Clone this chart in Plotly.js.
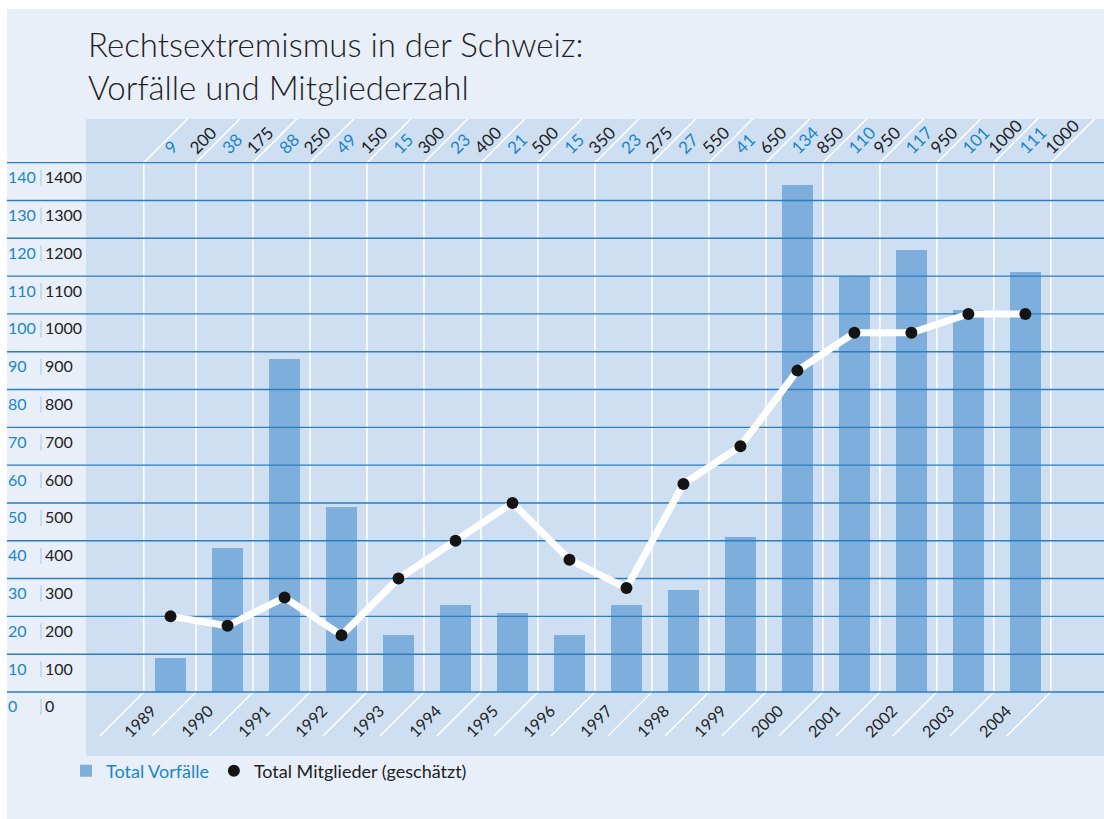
<!DOCTYPE html>
<html><head><meta charset="utf-8">
<script src="https://cdn.plot.ly/plotly-3.0.1.min.js"></script>
<style>html,body{margin:0;padding:0;background:#ffffff;}#chart{position:absolute;left:7px;top:9px;width:1097px;height:810px;}</style>
</head><body><div id="chart"></div>
<script>
// ---- data ----
const years = [1989,1990,1991,1992,1993,1994,1995,1996,1997,1998,1999,2000,2001,2002,2003,2004];
const incidents = [9,38,88,49,15,23,21,15,23,27,41,134,110,117,101,111];
const members = [200,175,250,150,300,400,500,350,275,550,650,850,950,950,1000,1000];
const incidentTicks = [0,10,20,30,40,50,60,70,80,90,100,110,120,130,140];
const memberTicks = [0,100,200,300,400,500,600,700,800,900,1000,1100,1200,1300,1400];
const titleText = 'Rechtsextremismus in der Schweiz:<br>Vorfälle und Mitgliederzahl';
const nameIncidents = 'Total Vorfälle';
const nameMembers = 'Total Mitglieder (geschätzt)';

// ---- style ----
const FONT = 'Lato, "Open Sans", sans-serif';
const BLUE_TXT = '#1a86c8', DARK = '#222222', GRID = '#2a7dc0';
const PAGE = '#e8eff9', PANEL = '#cfdff2', BAR = '#7eaedb';
const W = 1097, H = 810, MT = 110, MB = 63;
const PH = H - MT - MB;
const XR = [1986.13, 2005.38];
const YR = [-16.93, 151.55];
const Y2R = [YR[0]*10, YR[1]*10];
const pxX = W/(XR[1]-XR[0]);
const pxY = PH/(YR[1]-YR[0]);
const yMax = incidentTicks[incidentTicks.length-1];

// separator positions between categories
const seps = [years[0]-0.47].concat(years.map(y => y+0.447));

const shapes = [];
shapes.push({type:'rect', layer:'below', xref:'paper', yref:'paper',
  x0:(86-7)/W, x1:1, y0:0, y1:1, fillcolor:PANEL, line:{width:0}});
seps.forEach(s => {
  shapes.push({type:'line', layer:'below', xref:'x', yref:'y', x0:s, x1:s, y0:0, y1:yMax,
    line:{color:'#ffffff', width:1.5}});
  shapes.push({type:'line', layer:'below', xref:'x', yref:'y', x0:s, y0:yMax,
    x1:s+50/pxX, y1:yMax+50/pxY, line:{color:'#ffffff', width:1.5}});
  shapes.push({type:'line', layer:'below', xref:'x', yref:'y', x0:s, y0:0,
    x1:s-44/pxX, y1:-44/pxY, line:{color:'#ffffff', width:1.5}});
});
// small separators between the two tick label columns
incidentTicks.forEach(v => {
  shapes.push({type:'line', layer:'above', xref:'paper', yref:'y', ysizemode:'pixel',
    yanchor:v, y0:-23, y1:-7, x0:(41-7)/W, x1:(41-7)/W, line:{color:'#9cc8ec', width:1}});
});

const annotations = [];
// title (two lines in one text block)
annotations.push({xref:'paper', yref:'paper', x:(86-7)/W, y:1 + (MT - 56)/PH,
  xanchor:'left', yanchor:'middle', align:'left', text:titleText, showarrow:false,
  font:{family:FONT, size:33, color:DARK, weight:300}});
incidentTicks.forEach((v,i) => {
  annotations.push({xref:'paper', yref:'y', x:(6-7)/W, y:v, yshift:-14, xanchor:'left', yanchor:'middle',
    text:String(v), showarrow:false, font:{family:FONT, size:16, color:BLUE_TXT}});
  annotations.push({xref:'paper', yref:'y', x:(43-7)/W, y:v, yshift:-14, xanchor:'left', yanchor:'middle',
    text:String(memberTicks[i]), showarrow:false, font:{family:FONT, size:16, color:DARK}});
});
years.forEach((yr,i) => {
  annotations.push({xref:'x', yref:'y', x:yr, y:yMax, xshift:-13, yshift:2, xanchor:'left', yanchor:'bottom',
    textangle:-45, text:String(incidents[i]), showarrow:false, font:{family:FONT, size:17, color:BLUE_TXT}});
  annotations.push({xref:'x', yref:'y', x:yr, y:yMax, xshift:12, yshift:2, xanchor:'left', yanchor:'bottom',
    textangle:-45, text:String(members[i]), showarrow:false, font:{family:FONT, size:17, color:DARK}});
  annotations.push({xref:'x', yref:'y', x:yr, y:0, xshift:-8, yshift:-6, xanchor:'right', yanchor:'top',
    textangle:-45, text:String(yr), showarrow:false, font:{family:FONT, size:16, color:DARK}});
});

// gridlines drawn as a trace so they sit above the bars but below the line
const gx = [], gy = [];
incidentTicks.forEach(v => { gx.push(XR[0], XR[1], null); gy.push(v, v, null); });

const traces = [
  {type:'bar', x:years, y:incidents, name:'<span style="color:'+BLUE_TXT+'">'+nameIncidents+'</span>',
   width:0.545, marker:{color:BAR, line:{color:'#3b8ccc', width:0}}, hoverinfo:'x+y', xaxis:'x', yaxis:'y'},
  {type:'scatter', mode:'lines', x:gx, y:gy, line:{color:GRID, width:1.4}, showlegend:false,
   hoverinfo:'skip', xaxis:'x', yaxis:'y'},
  {type:'scatter', mode:'lines', x:years, y:members, line:{color:'#ffffff', width:7}, showlegend:false,
   hoverinfo:'skip', xaxis:'x', yaxis:'y2'},
  {type:'scatter', mode:'markers', x:years, y:members, name:nameMembers,
   marker:{color:'#141414', size:12}, xaxis:'x', yaxis:'y2'}
];

const layout = {
  width:W, height:H,
  margin:{l:0, r:0, t:MT, b:MB, pad:0},
  paper_bgcolor:PAGE, plot_bgcolor:PAGE,
  font:{family:FONT, color:DARK},
  xaxis:{range:XR, visible:false, fixedrange:true},
  yaxis:{range:YR, visible:false, fixedrange:true},
  yaxis2:{range:Y2R, visible:false, overlaying:'y', fixedrange:true},
  bargap:0,
  showlegend:true,
  legend:{orientation:'h', x:(66-7)/W, xanchor:'left', y:-(762-747)/PH, yanchor:'middle',
    bgcolor:'rgba(0,0,0,0)', font:{family:FONT, size:18, color:DARK}, itemwidth:30,
    itemclick:false, itemdoubleclick:false},
  shapes:shapes, annotations:annotations
};
Plotly.newPlot('chart', traces, layout, {displayModeBar:false, staticPlot:true});
</script></body></html>
